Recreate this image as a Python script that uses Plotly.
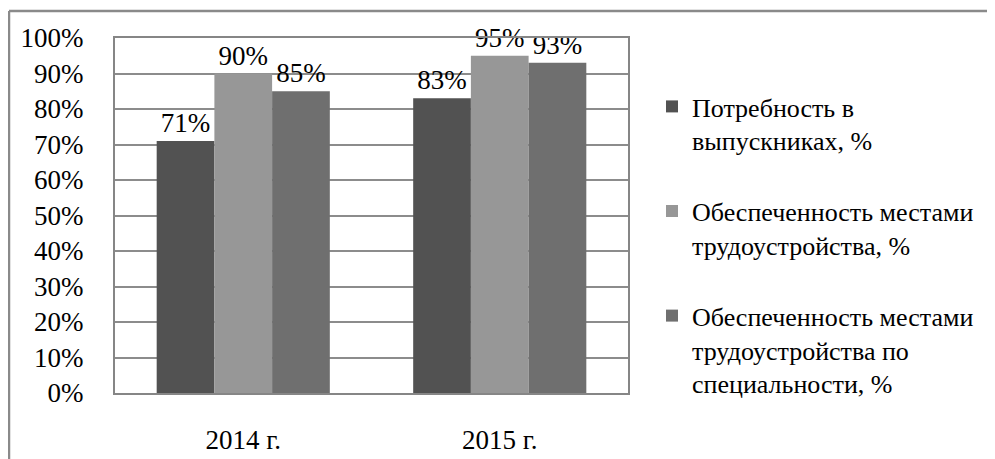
import plotly.graph_objects as go

categories = ["2014 г.", "2015 г."]
series_names = [
    "Потребность в<br>выпускниках, %",
    "Обеспеченность местами<br>трудоустройства, %",
    "Обеспеченность местами<br>трудоустройства по<br>специальности, %",
]
need = [71, 83]
provided = [90, 95]
provided_spec = [85, 93]
series_values = [need, provided, provided_spec]
colors = ["#525252", "#979797", "#6f6f6f"]
tick_vals = [0, 10, 20, 30, 40, 50, 60, 70, 80, 90, 100]
tick_text = [f"{v}%" for v in tick_vals]

# page body has an 8px margin, so the figure is slightly smaller
OFF = 8
W, H = 995 - 2 * OFF, 459 - OFF
L, T = 115 - OFF, 38 - OFF
R = W - (628 - OFF)
B = H - (393 - OFF)
pw, ph = W - L - R, H - T - B

FONT = "'Times New Roman', 'Liberation Serif', Times, serif"

fig = go.Figure()
for i, (name, vals, col) in enumerate(zip(series_names, series_values, colors)):
    fig.add_trace(go.Bar(
        x=categories, y=vals, name=name,
        marker=dict(color=col, line=dict(width=0)),
        text=[f"{v}%" for v in vals], textposition="outside",
        textfont=dict(family=FONT, size=27, color="black"),
        cliponaxis=False, legendgroup=f"g{i}",
    ))

def px_x(p):  # window pixel -> paper
    return (p - OFF - L) / pw

def px_y(p):
    return (H - B - (p - OFF)) / ph

fig.update_layout(
    width=W, height=H,
    margin=dict(l=L, r=R, t=T, b=B, autoexpand=False),
    paper_bgcolor="white", plot_bgcolor="white",
    barmode="group", bargap=0.325, bargroupgap=0,
    font=dict(family=FONT, size=26, color="black"),
    showlegend=True,
    legend=dict(
        x=px_x(652), y=px_y(83), xanchor="left", yanchor="top",
        font=dict(family=FONT, size=26, color="black"),
        tracegroupgap=34, valign="top", bgcolor="rgba(0,0,0,0)",
        itemwidth=30,
    ),
    xaxis=dict(
        showgrid=False, showline=True, linecolor="#868686", linewidth=2,
        mirror=True, ticks="", ticklabelstandoff=22,
        tickfont=dict(family=FONT, size=27, color="black"),
    ),
    yaxis=dict(
        range=[0, 100], tickvals=tick_vals, ticktext=tick_text,
        showgrid=True, gridcolor="#8c8c8c", gridwidth=1.5,
        showline=True, linecolor="#868686", linewidth=2, mirror=True,
        zeroline=False, ticks="", ticklabelstandoff=24,
        tickfont=dict(family=FONT, size=27, color="black"),
    ),
    shapes=[
        dict(type="line", xref="paper", yref="paper",
             x0=px_x(9), x1=px_x(1000), y0=px_y(11), y1=px_y(11),
             line=dict(color="#8a8a8a", width=2.5)),
        dict(type="line", xref="paper", yref="paper",
             x0=px_x(9), x1=px_x(9), y0=px_y(11), y1=px_y(470),
             line=dict(color="#8a8a8a", width=2.5)),
    ],
)

fig.write_html("out.html")
